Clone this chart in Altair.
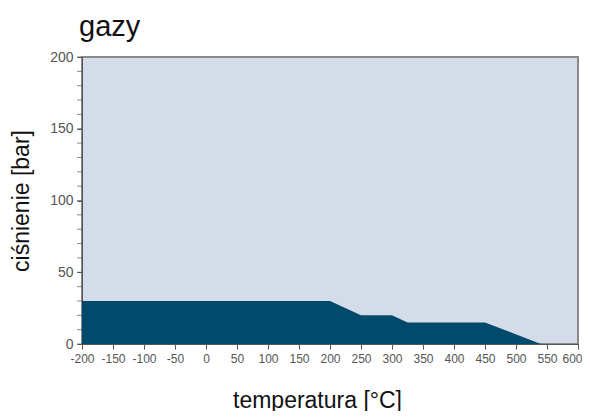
import altair as alt
import pandas as pd

temps = [-200, 200, 250, 300, 325, 450, 540, 600]
pressures = [30, 30, 20, 20, 15, 15, 0, 0]
x_ticks = [-200, -150, -100, -50, 0, 50, 100, 150, 200, 250, 300, 350, 400, 450, 500, 550, 600]
y_ticks = [0, 50, 100, 150, 200]

df = pd.DataFrame({"t": temps, "p": pressures})

chart = alt.Chart(df).mark_area(color="#014a6c", interpolate="linear").encode(
    x=alt.X("t:Q", scale=alt.Scale(domain=[-200, 600], nice=False, zero=False),
            axis=alt.Axis(values=x_ticks, title="temperatura [°C]", grid=False,
                          tickSize=5, labelPadding=4, labelFont="Liberation Sans", labelFontSize=12,
                          labelExpr="'' + datum.value",
                          labelOffset=alt.condition("datum.value == 600", alt.value(-6), alt.value(0)),
                          labelColor="#555555", domainColor="#555555", tickColor="#555555",
                          labelFlush=False, labelOverlap=False,
                          titleFont="Liberation Sans", titleFontSize=23, titleFontWeight="normal",
                          titleColor="#111111", titleX=235, titleY=63, titleBaseline="alphabetic",
                          titleAlign="center")),
    y=alt.Y("p:Q", scale=alt.Scale(domain=[0, 200], nice=False),
            axis=alt.Axis(values=y_ticks, title="ciśnienie [bar]", grid=False,
                          tickSize=5, labelPadding=4, labelFont="Liberation Sans", labelFontSize=14,
                          labelColor="#555555", domainColor="#555555", tickColor="#555555",
                          labelFlush=False,
                          titleFont="Liberation Sans", titleFontSize=23, titleFontWeight="normal",
                          titleColor="#111111", titleX=-61, titleY=143.5, titleBaseline="middle",
                          titleAlign="center", titleAngle=270)),
)

minor = alt.Chart(pd.DataFrame({"v": list(range(0, 201, 10))})).mark_tick(
    color="#555555", orient="horizontal", size=5, thickness=1
).encode(
    y=alt.Y("v:Q", scale=alt.Scale(domain=[0, 200], nice=False)),
    x=alt.value(-2.5),
)

layered = alt.layer(chart, minor).properties(
    width=496, height=287,
    title=alt.Title("gazy", anchor="start", frame="group", fontSize=29, font="Liberation Sans",
                    fontWeight="normal", color="#111111", dx=-3, offset=8),
    autosize=alt.AutoSizeParams(type="none"),
    padding={"left": 74, "top": 49, "right": 4, "bottom": 67},
).configure_view(fill="#d5dce9", stroke="#8a8a8a", strokeWidth=2)

layered.save("out.html", embed_options={"renderer": "svg", "actions": False})
